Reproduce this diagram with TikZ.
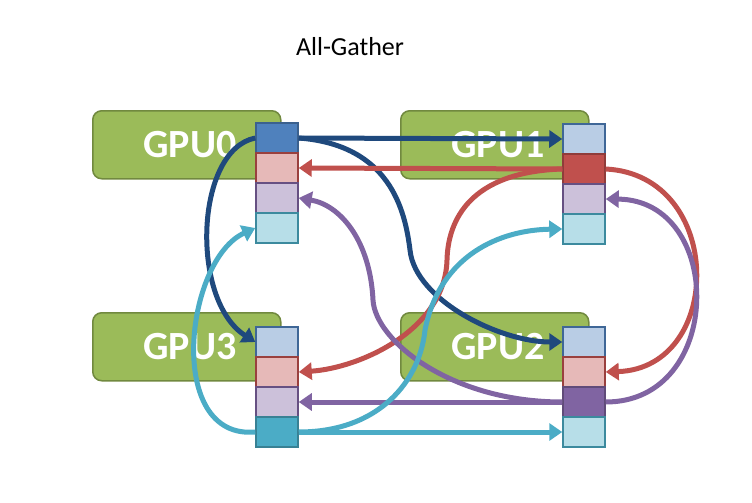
\documentclass[tikz,border=0pt]{standalone}
\usepackage{fontspec}
\setmainfont{Carlito}
\usetikzlibrary{arrows.meta}
\definecolor{gblue}{HTML}{4F81BD}
\definecolor{gred}{HTML}{C0504D}
\definecolor{gpurp}{HTML}{8064A2}
\definecolor{gteal}{HTML}{4BACC6}
\definecolor{gdark}{HTML}{1F497D}
\definecolor{ggreen}{HTML}{9BBB59}
\definecolor{ggreenb}{HTML}{71893F}
\tikzset{
 gpubox/.style={draw=ggreenb,line width=1.5pt,fill=ggreen,rounded corners=9pt,minimum width=188pt,minimum height=68pt,anchor=north west,inner sep=0pt},
 gpulbl/.style={text=white,font=\bfseries\fontsize{40}{40}\selectfont},
 cell/.style={line width=1.5pt,minimum width=42pt,minimum height=30pt,inner sep=0pt},
 arr/.style={line width=5pt,-{Triangle[length=13pt,width=17pt]}},
}
\begin{document}
\begin{tikzpicture}[x=1pt,y=-1pt]
\useasboundingbox (0,0) rectangle (752,503);
\node at (350,47) {\fontsize{26}{26}\selectfont All-Gather};
\node[gpubox] (b0) at (92,110) {};
\node[gpubox] (b1) at (400,110) {};
\node[gpubox] (b3) at (92,312) {};
\node[gpubox] (b2) at (400,312) {};
\node[gpulbl] (l0) at (190,145) {GPU0};
\node[gpulbl] (l1) at (498,145) {GPU1};
\node[gpulbl] (l3) at (190,347) {GPU3};
\node[gpulbl] (l2) at (498,347) {GPU2};
\foreach \g/\x/\y/\own in {0/277/138/0,1/584/139/1,3/277/342/3,2/584/342/2}{
 \foreach \c/\col in {0/gblue,1/gred,2/gpurp,3/gteal}{
  \ifnum\c=\own
   \node[cell,draw=\col!75!black,fill=\col] (g\g c\c) at (\x,\y+\c*30) {};
  \else
   \node[cell,draw=\col!80!black,fill=\col!40] (g\g c\c) at (\x,\y+\c*30) {};
  \fi
 }
}
% dark blue
\draw[arr,gdark] (g0c0.east) -- (g1c0.west);
\draw[arr,gdark] (g0c0.west) .. controls (195,150) and (190,300) .. (g3c0.west);
\draw[arr,gdark] (g0c0.east) .. controls (390,145) and (405,210) .. (410,250) .. controls (415,300) and (500,342) .. (g2c0.west);
% red
\draw[arr,gred] (g1c1.west) -- (g0c1.east);
\draw[arr,gred] (g1c1.west) .. controls (470,172) and (448,220) .. (447,260) .. controls (445,330) and (360,368) .. (g3c1.east);
\draw[arr,gred] (g1c1.east) .. controls (725,175) and (725,368) .. (g2c1.east);
% purple
\draw[arr,gpurp] (g2c2.west) -- (g3c2.east);
\draw[arr,gpurp] (g2c2.east) .. controls (725,402) and (725,200) .. (g1c2.east);
\draw[arr,gpurp] (g2c2.west) .. controls (450,402) and (375,340) .. (373,300) .. controls (370,240) and (340,205) .. (g0c2.east);
% teal
\draw[arr,gteal] (g3c3.east) -- (g2c3.west);
\draw[arr,gteal] (g3c3.west) .. controls (165,440) and (185,260) .. (g0c3.west);
\draw[arr,gteal] (g3c3.east) .. controls (380,432) and (420,380) .. (425,330) .. controls (440,255) and (500,230) .. (g1c3.west);
\end{tikzpicture}
\end{document}
